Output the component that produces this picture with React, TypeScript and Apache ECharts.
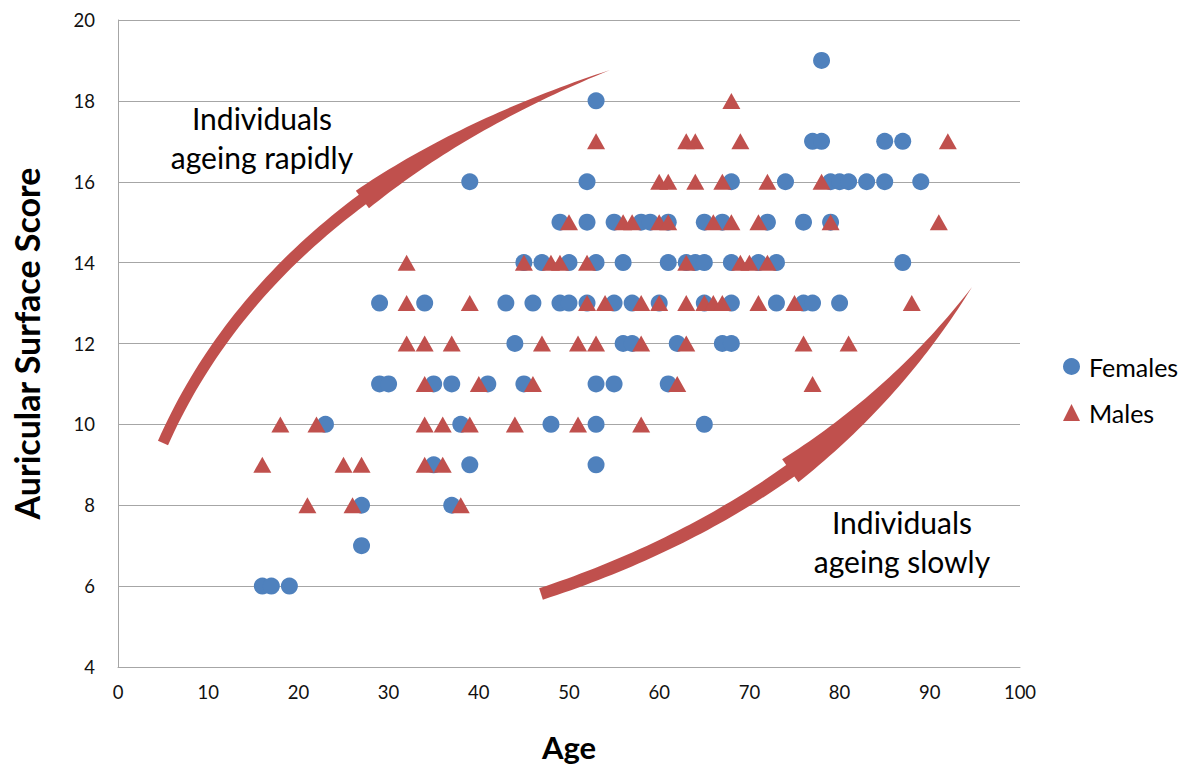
import React, { useEffect, useRef } from "react";
import * as echarts from "echarts";

// ---- Data (age, auricular surface score) ----
const females: [number, number][] = [
  [16, 6], [17, 6], [19, 6],
  [27, 7],
  [27, 8], [37, 8],
  [35, 9], [39, 9], [53, 9],
  [23, 10], [38, 10], [48, 10], [53, 10], [65, 10],
  [29, 11], [30, 11], [35, 11], [37, 11], [41, 11], [45, 11], [53, 11], [55, 11], [61, 11],
  [44, 12], [56, 12], [57, 12], [62, 12], [67, 12], [68, 12],
  [29, 13], [34, 13], [43, 13], [46, 13], [49, 13], [50, 13], [52, 13], [55, 13], [57, 13], [60, 13], [65, 13], [68, 13], [73, 13], [76, 13], [77, 13], [80, 13],
  [45, 14], [47, 14], [50, 14], [53, 14], [56, 14], [61, 14], [63, 14], [64, 14], [65, 14], [68, 14], [71, 14], [73, 14], [87, 14],
  [49, 15], [52, 15], [55, 15], [58, 15], [59, 15], [61, 15], [65, 15], [67, 15], [72, 15], [76, 15], [79, 15],
  [39, 16], [52, 16], [68, 16], [74, 16], [79, 16], [80, 16], [81, 16], [83, 16], [85, 16], [89, 16],
  [77, 17], [78, 17], [85, 17], [87, 17],
  [53, 18],
  [78, 19],
];

const males: [number, number][] = [
  [21, 8], [26, 8], [38, 8],
  [16, 9], [25, 9], [27, 9], [34, 9], [36, 9],
  [18, 10], [22, 10], [34, 10], [36, 10], [39, 10], [44, 10], [51, 10], [58, 10],
  [34, 11], [40, 11], [46, 11], [62, 11], [77, 11],
  [32, 12], [34, 12], [37, 12], [47, 12], [51, 12], [53, 12], [58, 12], [63, 12], [76, 12], [81, 12],
  [32, 13], [39, 13], [52, 13], [54, 13], [58, 13], [60, 13], [63, 13], [65, 13], [66, 13], [67, 13], [71, 13], [75, 13], [88, 13],
  [32, 14], [45, 14], [48, 14], [49, 14], [52, 14], [63, 14], [69, 14], [70, 14], [72, 14],
  [50, 15], [56, 15], [57, 15], [60, 15], [61, 15], [66, 15], [68, 15], [71, 15], [79, 15], [91, 15],
  [60, 16], [61, 16], [64, 16], [67, 16], [72, 16], [78, 16],
  [53, 17], [63, 17], [64, 17], [69, 17], [92, 17],
  [68, 18],
];

const seriesNames = ["Females", "Males"];
const xTitle = "Age";
const yTitle = "Auricular Surface Score";
const annotationRapid = ["Individuals", "ageing rapidly"];
const annotationSlow = ["Individuals", "ageing slowly"];

const BLUE = "#4F81BD";
const RED = "#C0504D";
const FONT = "Lato, 'Open Sans', sans-serif";

type Pt = [number, number];

function arrowPoints(
  p0: Pt, p1: Pt, p2: Pt, ts: number, wT0: number, wT1: number, wH: number
): Pt[] {
  const left: Pt[] = [];
  const right: Pt[] = [];
  const add = (t: number, w: number) => {
    const u = 1 - t;
    const x = u * u * p0[0] + 2 * t * u * p1[0] + t * t * p2[0];
    const y = u * u * p0[1] + 2 * t * u * p1[1] + t * t * p2[1];
    const dx = 2 * u * (p1[0] - p0[0]) + 2 * t * (p2[0] - p1[0]);
    const dy = 2 * u * (p1[1] - p0[1]) + 2 * t * (p2[1] - p1[1]);
    const len = Math.hypot(dx, dy) || 1;
    const nx = -dy / len, ny = dx / len;
    left.push([x + nx * w / 2, y + ny * w / 2]);
    right.push([x - nx * w / 2, y - ny * w / 2]);
  };
  const N = 40;
  for (let i = 0; i <= N; i++) {
    const t = (ts * i) / N;
    add(t, wT0 + ((wT1 - wT0) * i) / N);
  }
  for (let i = 0; i <= N; i++) {
    const t = ts + ((1 - ts) * i) / N;
    add(t, wH * (1 - i / N));
  }
  return [...left, ...right.reverse()];
}

export default function App() {
  const ref = useRef<HTMLDivElement>(null);
  useEffect(() => {
    if (!ref.current) return;
    const chart = echarts.init(ref.current, null, { renderer: "svg" });
    const arrow1 = arrowPoints([163, 443], [273.5, 193.5], [610, 70], 0.57, 11, 12, 22);
    const arrow2 = arrowPoints([541, 594], [824, 501], [972, 287], 0.5, 12, 14, 28);
    const textStyle = (t: string, x: number, y: number) => ({
      type: "text",
      z: 100,
      style: {
        text: t, x, y, textAlign: "center", textVerticalAlign: "middle",
        font: `30px ${FONT}`, fill: "#000",
      },
    });
    chart.setOption({
      animation: false,
      backgroundColor: "#fff",
      grid: { left: 118, right: 175, top: 20, bottom: 102, containLabel: false },
      xAxis: {
        type: "value", min: 0, max: 100, interval: 10,
        name: xTitle, nameLocation: "middle", nameGap: 64,
        nameTextStyle: { fontFamily: FONT, fontWeight: "bold", fontSize: 31, color: "#000" },
        axisLine: { show: true, lineStyle: { color: "#a6a6a6", width: 1 } },
        axisTick: { show: false },
        axisLabel: { fontFamily: FONT, fontSize: 18.5, color: "#111", margin: 15 },
        splitLine: { show: false },
      },
      yAxis: {
        type: "value", min: 4, max: 20, interval: 2,
        name: yTitle, nameLocation: "middle", nameGap: 75, nameRotate: 90,
        nameTextStyle: { fontFamily: FONT, fontWeight: "bold", fontSize: 34, color: "#000" },
        axisLine: { show: true, lineStyle: { color: "#a6a6a6", width: 1 } },
        axisTick: { show: false },
        axisLabel: { fontFamily: FONT, fontSize: 18.5, color: "#111", margin: 23 },
        splitLine: { show: true, lineStyle: { color: "#a6a6a6", width: 1 } },
      },
      legend: {
        data: seriesNames,
        orient: "vertical", left: 1063, top: 354, padding: 0,
        itemWidth: 17, itemHeight: 17, itemGap: 21,
        textStyle: { fontFamily: FONT, fontSize: 25, color: "#000", padding: [0, 0, 0, 4] },
      },
      series: [
        {
          name: seriesNames[0], type: "scatter", data: females,
          symbol: "circle", symbolSize: 17, itemStyle: { color: BLUE, opacity: 1 },
        },
        {
          name: seriesNames[1], type: "scatter", data: males,
          symbol: "triangle", symbolSize: [18, 16], itemStyle: { color: RED, opacity: 1 },
        },
      ],
      graphic: [
        { type: "polygon", z: 90, shape: { points: arrow1 }, style: { fill: RED } },
        { type: "polygon", z: 90, shape: { points: arrow2 }, style: { fill: RED } },
        textStyle(annotationRapid[0], 262, 118),
        textStyle(annotationRapid[1], 262, 157),
        textStyle(annotationSlow[0], 902, 522),
        textStyle(annotationSlow[1], 902, 561),
      ],
    });
    return () => chart.dispose();
  }, []);
  return (
    <div
      ref={ref}
      style={{ position: "absolute", left: 0, top: 0, width: 1195, height: 769 }}
    />
  );
}
